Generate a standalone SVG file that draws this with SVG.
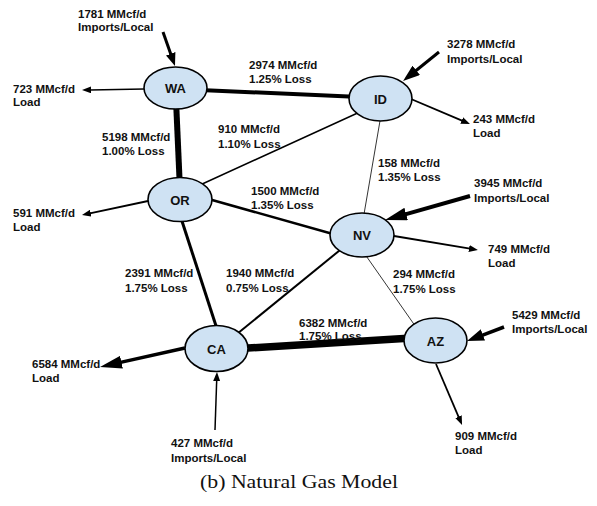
<svg xmlns="http://www.w3.org/2000/svg" width="597" height="506" viewBox="0 0 597 506">
<style>
.bg{fill:#ffffff}
.edge{stroke:#000;fill:none;stroke-linecap:butt}
.arr{stroke:#000;fill:none}
.node ellipse{fill:#cfe2f3;stroke:#000;stroke-width:1.6}
.node text{font-family:"Liberation Sans",Arial,sans-serif;font-weight:bold;font-size:13px;fill:#111;text-anchor:middle}
.lbl{font-family:"Liberation Sans",Arial,sans-serif;font-weight:bold;font-size:11.5px;fill:#111}
.cap{font-family:"Liberation Serif","Times New Roman",serif;font-size:18px;fill:#111}
</style>
<defs>
<marker id="hs" markerUnits="userSpaceOnUse" viewBox="0 0 9 7" markerWidth="9" markerHeight="7" refX="1" refY="3.5" orient="auto"><path d="M0,0 L9,3.5 L0,7 z" fill="#000"/></marker>
<marker id="hm" markerUnits="userSpaceOnUse" viewBox="0 0 13 10" markerWidth="13" markerHeight="10" refX="1" refY="5" orient="auto"><path d="M0,0 L13,5 L0,10 z" fill="#000"/></marker>
<marker id="hml" markerUnits="userSpaceOnUse" viewBox="0 0 17 12" markerWidth="17" markerHeight="12" refX="1" refY="6" orient="auto"><path d="M0,0 L17,6 L0,12 z" fill="#000"/></marker>
<marker id="hl" markerUnits="userSpaceOnUse" viewBox="0 0 22 13" markerWidth="22" markerHeight="13" refX="1" refY="6.5" orient="auto"><path d="M0,0 L22,6.5 L0,13 z" fill="#000"/></marker>
</defs>
<rect class="bg" x="0" y="0" width="597" height="506"/>
<g id="connectors">
<line class="edge" x1="200" y1="90" x2="360" y2="97" stroke-width="4"/>
<line class="edge" x1="176" y1="100" x2="180" y2="190" stroke-width="6"/>
<line class="edge" x1="200" y1="185" x2="362" y2="111" stroke-width="1.5"/>
<line class="edge" x1="205" y1="198" x2="340" y2="236" stroke-width="2.5"/>
<line class="edge" x1="381" y1="115" x2="363" y2="220" stroke-width="0.8"/>
<line class="edge" x1="180" y1="215" x2="218" y2="332" stroke-width="3"/>
<line class="edge" x1="232" y1="338" x2="345" y2="246" stroke-width="2"/>
<line class="edge" x1="240" y1="348.5" x2="412" y2="338" stroke-width="7.5"/>
<line class="edge" x1="362" y1="250" x2="418" y2="330" stroke-width="0.8"/>
<line class="arr" x1="163" y1="32" x2="171" y2="54.7" stroke-width="3" marker-end="url(#hm)"/>
<line class="arr" x1="144" y1="89" x2="90" y2="89.9" stroke-width="1.5" marker-end="url(#hs)"/>
<line class="arr" x1="439" y1="52" x2="415.5" y2="71" stroke-width="3" marker-end="url(#hml)"/>
<line class="arr" x1="411" y1="99" x2="462.6" y2="120.9" stroke-width="1.8" marker-end="url(#hs)"/>
<line class="arr" x1="470" y1="196" x2="405.2" y2="214.3" stroke-width="4" marker-end="url(#hl)"/>
<line class="arr" x1="394" y1="236" x2="470" y2="248.7" stroke-width="1.8" marker-end="url(#hs)"/>
<line class="arr" x1="148" y1="201" x2="89.8" y2="213.3" stroke-width="1.8" marker-end="url(#hs)"/>
<line class="arr" x1="185" y1="348" x2="120.5" y2="362.4" stroke-width="3.5" marker-end="url(#hl)"/>
<line class="arr" x1="215" y1="430" x2="216.7" y2="380" stroke-width="1.5" marker-end="url(#hs)"/>
<line class="arr" x1="504" y1="327" x2="482" y2="335.3" stroke-width="3.5" marker-end="url(#hml)"/>
<line class="arr" x1="436" y1="364" x2="458.9" y2="417.6" stroke-width="1.8" marker-end="url(#hs)"/>
</g>
<g id="node-WA" class="node"><ellipse cx="175.5" cy="88" rx="31.5" ry="21"/><text x="175.5" y="93">WA</text></g>
<g id="node-ID" class="node"><ellipse cx="380.5" cy="98.5" rx="31.5" ry="22.5"/><text x="380.5" y="103.5">ID</text></g>
<g id="node-OR" class="node"><ellipse cx="180" cy="199.5" rx="32" ry="22"/><text x="180" y="204.5">OR</text></g>
<g id="node-NV" class="node"><ellipse cx="362" cy="235" rx="32" ry="22"/><text x="362" y="240">NV</text></g>
<g id="node-CA" class="node"><ellipse cx="216.5" cy="348.5" rx="31.5" ry="23"/><text x="216.5" y="353.5">CA</text></g>
<g id="node-AZ" class="node"><ellipse cx="435.5" cy="340.5" rx="31.5" ry="22.5"/><text x="435.5" y="345.5">AZ</text></g>
<g id="labels">
<text class="lbl" x="78" y="18">1781 MMcf/d<tspan x="78" y="31">Imports/Local</tspan></text>
<text class="lbl" x="13" y="93">723 MMcf/d<tspan x="13" y="106">Load</tspan></text>
<text class="lbl" x="249" y="69">2974 MMcf/d<tspan x="249" y="83">1.25% Loss</tspan></text>
<text class="lbl" x="102" y="141">5198 MMcf/d<tspan x="102" y="155">1.00% Loss</tspan></text>
<text class="lbl" x="218" y="133">910 MMcf/d<tspan x="218" y="147.5">1.10% Loss</tspan></text>
<text class="lbl" x="251" y="195">1500 MMcf/d<tspan x="251" y="209">1.35% Loss</tspan></text>
<text class="lbl" x="13" y="217">591 MMcf/d<tspan x="13" y="231">Load</tspan></text>
<text class="lbl" x="447" y="48">3278 MMcf/d<tspan x="447" y="62.5">Imports/Local</tspan></text>
<text class="lbl" x="473" y="123">243 MMcf/d<tspan x="473" y="137">Load</tspan></text>
<text class="lbl" x="378" y="167">158 MMcf/d<tspan x="378" y="181">1.35% Loss</tspan></text>
<text class="lbl" x="474" y="187">3945 MMcf/d<tspan x="474" y="201.5">Imports/Local</tspan></text>
<text class="lbl" x="488" y="253">749 MMcf/d<tspan x="488" y="267">Load</tspan></text>
<text class="lbl" x="125" y="277">2391 MMcf/d<tspan x="125" y="292">1.75% Loss</tspan></text>
<text class="lbl" x="226" y="277">1940 MMcf/d<tspan x="226" y="292">0.75% Loss</tspan></text>
<text class="lbl" x="393" y="278">294 MMcf/d<tspan x="393" y="293">1.75% Loss</tspan></text>
<text class="lbl" x="299" y="326.5">6382 MMcf/d<tspan x="299" y="339.5">1.75% Loss</tspan></text>
<text class="lbl" x="512" y="319">5429 MMcf/d<tspan x="512" y="333">Imports/Local</tspan></text>
<text class="lbl" x="32" y="368">6584 MMcf/d<tspan x="32" y="382">Load</tspan></text>
<text class="lbl" x="171" y="447">427 MMcf/d<tspan x="171" y="462">Imports/Local</tspan></text>
<text class="lbl" x="455" y="440">909 MMcf/d<tspan x="455" y="454">Load</tspan></text>
</g>
<text class="cap" x="200" y="488" textLength="198" lengthAdjust="spacingAndGlyphs">(b)  Natural Gas Model</text>
</svg>
